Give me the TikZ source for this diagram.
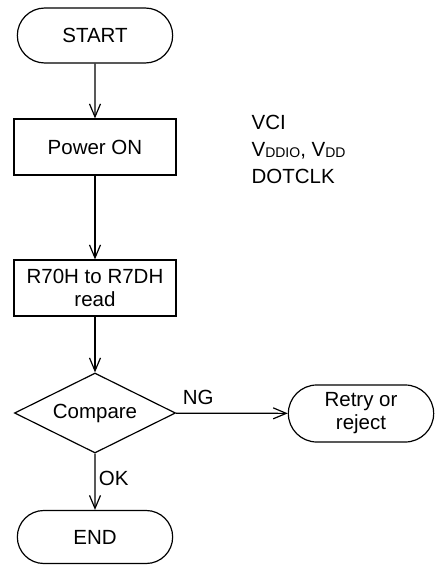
\documentclass[tikz,border=0pt]{standalone}
\usepackage{fontspec}
\setmainfont{Liberation Sans}
\usetikzlibrary{arrows.meta, shapes.misc, shapes.geometric}

\tikzset{
	terminal/.style={draw, rounded rectangle, minimum width=162pt, minimum height=55pt, align=center},
	process/.style={draw, rectangle, minimum width=162pt, minimum height=56pt, align=center},
	decision/.style={draw, diamond, aspect=2, minimum width=161pt, minimum height=80pt, inner sep=0pt},
	flow/.style={-{Straight Barb[length=13pt, width=11pt]}},
}

\begin{document}
\begin{tikzpicture}[x=1pt, y=-1pt, line width=1.2pt, font=\fontsize{20.5}{23}\selectfont]
	\useasboundingbox (0, 0) rectangle (439, 565);
	% Nodes:
	\node[terminal] (start) at (95, 35.5){START};
	\node[process] (power) at (95, 147){Power ON};
	\node[process, text depth=0pt] (read) at (95, 288){R70H to R7DH\\read};
	\node[decision] (cmp) at (95, 413){Compare};
	\node[terminal, minimum width=152pt, minimum height=57pt] (retry) at (361, 413.5){Retry or\\reject};
	\node[terminal, minimum height=53pt] (end) at (95, 537){END};
	% Power supply note:
	\node[anchor=west, align=left, inner sep=0pt] (supply) at (251, 149){VCI\\[4pt]V\raisebox{-1.5pt}{\fontsize{14}{14}\selectfont DDIO}, V\raisebox{-1.5pt}{\fontsize{14}{14}\selectfont DD}\\[4pt]DOTCLK};
	% Connectors:
	\draw[flow] (start) -- (power);
	\draw[flow] (power) -- (read);
	\draw[flow] (read) -- (cmp);
	\draw[flow] (cmp) -- node[above=5pt, pos=0.2]{NG} (retry);
	\draw[flow] (cmp) -- node[right, pos=0.45]{OK} (end);
\end{tikzpicture}
\end{document}
